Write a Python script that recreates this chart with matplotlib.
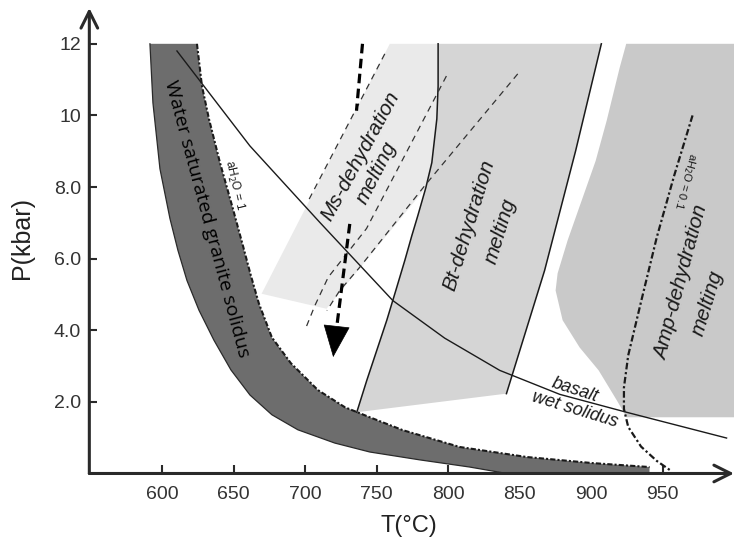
import matplotlib
matplotlib.use('Agg')
import matplotlib.pyplot as plt
from matplotlib.patches import Polygon

plt.rcParams['font.family'] = ['Liberation Sans', 'DejaVu Sans']

# axis ticks
t_ticks = [600, 650, 700, 750, 800, 850, 900, 950]
p_ticks = [2, 4, 6, 8, 10, 12]
p_tick_labels = ['2.0', '4.0', '6.0', '8.0', '10', '12']

# water saturated granite solidus band: lower/left edge (solid) and upper/right edge (aH2O = 1)
band_lo_T = [591.4, 593.5, 598.4, 605.4, 611.0, 617.3, 625.7, 636.2, 648.1, 661.4, 676.7,
             694.9, 720.7, 745.2, 780.2, 815.1, 841.0]
band_lo_P = [12.0, 10.35, 8.51, 7.12, 6.23, 5.39, 4.56, 3.72, 2.89, 2.19, 1.64,
             1.22, 0.85, 0.60, 0.38, 0.18, 0.0]
band_hi_T = [624.3, 627.8, 632.7, 640.4, 649.4, 656.4, 662.0, 667.6, 676.7, 690.0, 708.9,
             727.8, 745.2, 768.3, 808.1, 855.0, 901.1, 940.9]
band_hi_P = [12.0, 10.82, 9.90, 8.68, 7.40, 6.37, 5.53, 4.75, 3.80, 3.08, 2.33,
             1.85, 1.57, 1.21, 0.74, 0.46, 0.29, 0.18]
band_end_T = 940.9

# Bt-dehydration melting field: left curve (solid) and right line
bt_left_T = [793.0, 793.0, 792.1, 788.6, 784.4, 778.8, 774.6, 769.7, 763.4, 757.1, 750.1, 743.1, 736.1]
bt_left_P = [12.0, 10.82, 9.90, 8.68, 7.98, 7.20, 6.64, 5.95, 5.11, 4.28, 3.44, 2.60, 1.71]
bt_right_T = [907.2, 889.2, 867.5, 840.8]
bt_right_P = [12.0, 9.01, 5.67, 2.23]

# Ms-dehydration melting field (light)
ms_T = [759.2, 793.0, 793.0, 792.1, 788.6, 784.4, 714.9, 669.5]
ms_P = [12.0, 12.0, 10.82, 9.90, 8.68, 7.98, 4.60, 5.02]

# Amp-dehydration melting field, left boundary
amp_T = [924.6, 920.0, 910.9, 903.2, 893.4, 883.6, 876.6, 875.2, 880.1, 892.0, 905.3, 917.9, 924.9]
amp_P = [12.0, 11.33, 9.85, 8.73, 7.62, 6.51, 5.59, 5.11, 4.28, 3.52, 2.88, 2.05, 1.57]

# basalt wet solidus
basalt_T = [610.3, 661.3, 710.3, 761.3, 797.6, 836.1, 878.1, 924.8, 994.8]
basalt_P = [11.80, 9.15, 7.01, 4.83, 3.78, 2.88, 2.21, 1.71, 0.99]

# aH2O = 0.1 line
amp_h2o_T = [971.0, 958.0, 946.0, 935.0, 926.0, 923.0, 923.0, 926.0, 935.0, 946.0, 955.0]
amp_h2o_P = [10.0, 8.3, 6.6, 4.8, 3.3, 2.4, 1.8, 1.3, 0.75, 0.35, 0.1]

# thin dashed isopleths
iso1_T = [755.7, 701.2]
iso1_P = [11.72, 7.54]
iso2_T = [798.8, 742.9, 716.1, 706.8, 699.8]
iso2_P = [11.10, 6.84, 5.48, 4.69, 4.00]
iso3_T = [848.7, 783.7, 738.2, 724.2, 715.2]
iso3_P = [11.16, 8.04, 5.76, 5.11, 4.55]

# P-T path (thick dashed arrow)
path1_T = [740.1, 735.9]
path1_P = [12.0, 10.13]
path2_T = [731.2, 721.0]
path2_P = [6.97, 3.75]
path_tip = (719.6, 3.25)

fig = plt.figure(figsize=(7.34, 5.41), dpi=100)
ax = fig.add_axes([0.1217, 0.1248, 0.8783, 0.8604])
ax.set_xlim(549, 1000)
ax.set_ylim(0, 13.0)

P_TOP = 12.0
P_AMP_BOT = amp_P[-1]

# fields
amp_poly = list(zip(amp_T, amp_P)) + [(1000, P_AMP_BOT), (1000, P_TOP)]
ax.add_patch(Polygon(amp_poly, closed=True, fc='#c9c9c9', ec='none', zorder=1))

bt_poly = list(zip(bt_left_T, bt_left_P)) + list(zip(bt_right_T[::-1], bt_right_P[::-1]))
ax.add_patch(Polygon(bt_poly, closed=True, fc='#d5d5d5', ec='none', zorder=1))

ax.add_patch(Polygon(list(zip(ms_T, ms_P)), closed=True, fc='#eaeaea', ec='none', zorder=1.1))

band_poly = (list(zip(band_lo_T, band_lo_P)) + [(band_end_T, 0.0)]
             + list(zip(band_hi_T[::-1], band_hi_P[::-1])))
ax.add_patch(Polygon(band_poly, closed=True, fc='#6d6d6d', ec='none', zorder=2))
ax.plot(band_lo_T, band_lo_P, color='#2a2a2a', lw=0.9, zorder=3)
ax.plot(band_hi_T, band_hi_P, color='#1a1a1a', lw=1.5, ls=(0, (2.5, 1, 1, 1)), zorder=3)

# boundaries
ax.plot(bt_left_T, bt_left_P, color='#1a1a1a', lw=1.1, zorder=3)
ax.plot(bt_right_T, bt_right_P, color='#1a1a1a', lw=1.1, zorder=3)
ax.plot(basalt_T, basalt_P, color='#1a1a1a', lw=1.0, zorder=3)
ax.plot(amp_h2o_T, amp_h2o_P, color='#1a1a1a', lw=1.6, ls=(0, (3, 1.2, 1, 1.2)), zorder=3)

for tt, pp in [(iso1_T, iso1_P), (iso2_T, iso2_P), (iso3_T, iso3_P)]:
    ax.plot(tt, pp, color='#333333', lw=0.9, ls=(0, (5, 4)), zorder=3)

ax.plot(path1_T, path1_P, color='black', lw=2.3, ls=(0, (3, 1.7)), zorder=4)
ax.plot(path2_T, path2_P, color='black', lw=2.3, ls=(0, (3, 1.7)), zorder=4)
ax.annotate('', xy=path_tip, xytext=(path2_T[-1], path2_P[-1]),
            arrowprops=dict(arrowstyle='-|>,head_length=1.2,head_width=0.5',
                            mutation_scale=18, color='black', lw=0.5,
                            shrinkA=0, shrinkB=0), zorder=4)

# labels in the diagram
it = dict(style='italic', color='#1a1a1a', ha='center', va='center',
          rotation_mode='anchor', zorder=5)
ax.text(631.3, 7.12, 'Water saturated granite solidus', rotation=-75, fontsize=14,
        family=['Open Sans', 'DejaVu Sans'], color='black', ha='center', va='center',
        rotation_mode='anchor', zorder=5)
ax.text(650.1, 8.04, 'aH$_2$O = 1', rotation=-77, fontsize=8.5, color='#1a1a1a',
        ha='center', va='center', rotation_mode='anchor', zorder=5)
ax.text(738.9, 8.85, 'Ms-dehydration', rotation=61.5, fontsize=15, **it)
ax.text(750.1, 8.40, 'melting', rotation=63, fontsize=15, **it)
ax.text(814.4, 6.92, 'Bt-dehydration', rotation=73, fontsize=15, **it)
ax.text(836.8, 6.78, 'melting', rotation=73, fontsize=15, **it)
ax.text(963.3, 5.34, 'Amp-dehydration', rotation=75, fontsize=15, **it)
ax.text(981.5, 4.75, 'melting', rotation=73, fontsize=15, **it)
ax.text(966.1, 8.18, 'aH$_2$O = 0.1', rotation=-105, fontsize=8, color='#1a1a1a',
        ha='center', va='center', rotation_mode='anchor', zorder=5)
ax.text(888.5, 2.33, 'basalt', rotation=-18, fontsize=13, **it)
ax.text(888.5, 1.77, 'wet solidus', rotation=-17, fontsize=13, **it)

# axes with arrow heads
for s in ax.spines.values():
    s.set_visible(False)
arrow = dict(arrowstyle='->,head_length=1.2,head_width=0.6', lw=2.2, color='#2a2a2a',
             mutation_scale=10, shrinkA=0, shrinkB=0)
ax.annotate('', xy=(1, 0), xytext=(0, 0), xycoords='axes fraction',
            arrowprops=arrow, annotation_clip=False, zorder=6)
ax.annotate('', xy=(0, 1), xytext=(0, 0), xycoords='axes fraction',
            arrowprops=arrow, annotation_clip=False, zorder=6)

ax.set_xticks(t_ticks)
ax.set_yticks(p_ticks)
ax.set_yticklabels(p_tick_labels)
ax.tick_params(direction='in', length=6, width=1.5, color='#2a2a2a',
               labelsize=14, labelcolor='#333333')
ax.tick_params(axis='x', pad=9)
ax.tick_params(axis='y', pad=6)

fig.text(22 / 734, 1 - 238 / 541, 'P(kbar)', rotation=90, fontsize=18,
         ha='center', va='center', color='#222222')
fig.text(409 / 734, 1 - 526 / 541, 'T(\u00b0C)', fontsize=17,
         ha='center', va='center', color='#222222')

fig.savefig('out.png', dpi=100)
